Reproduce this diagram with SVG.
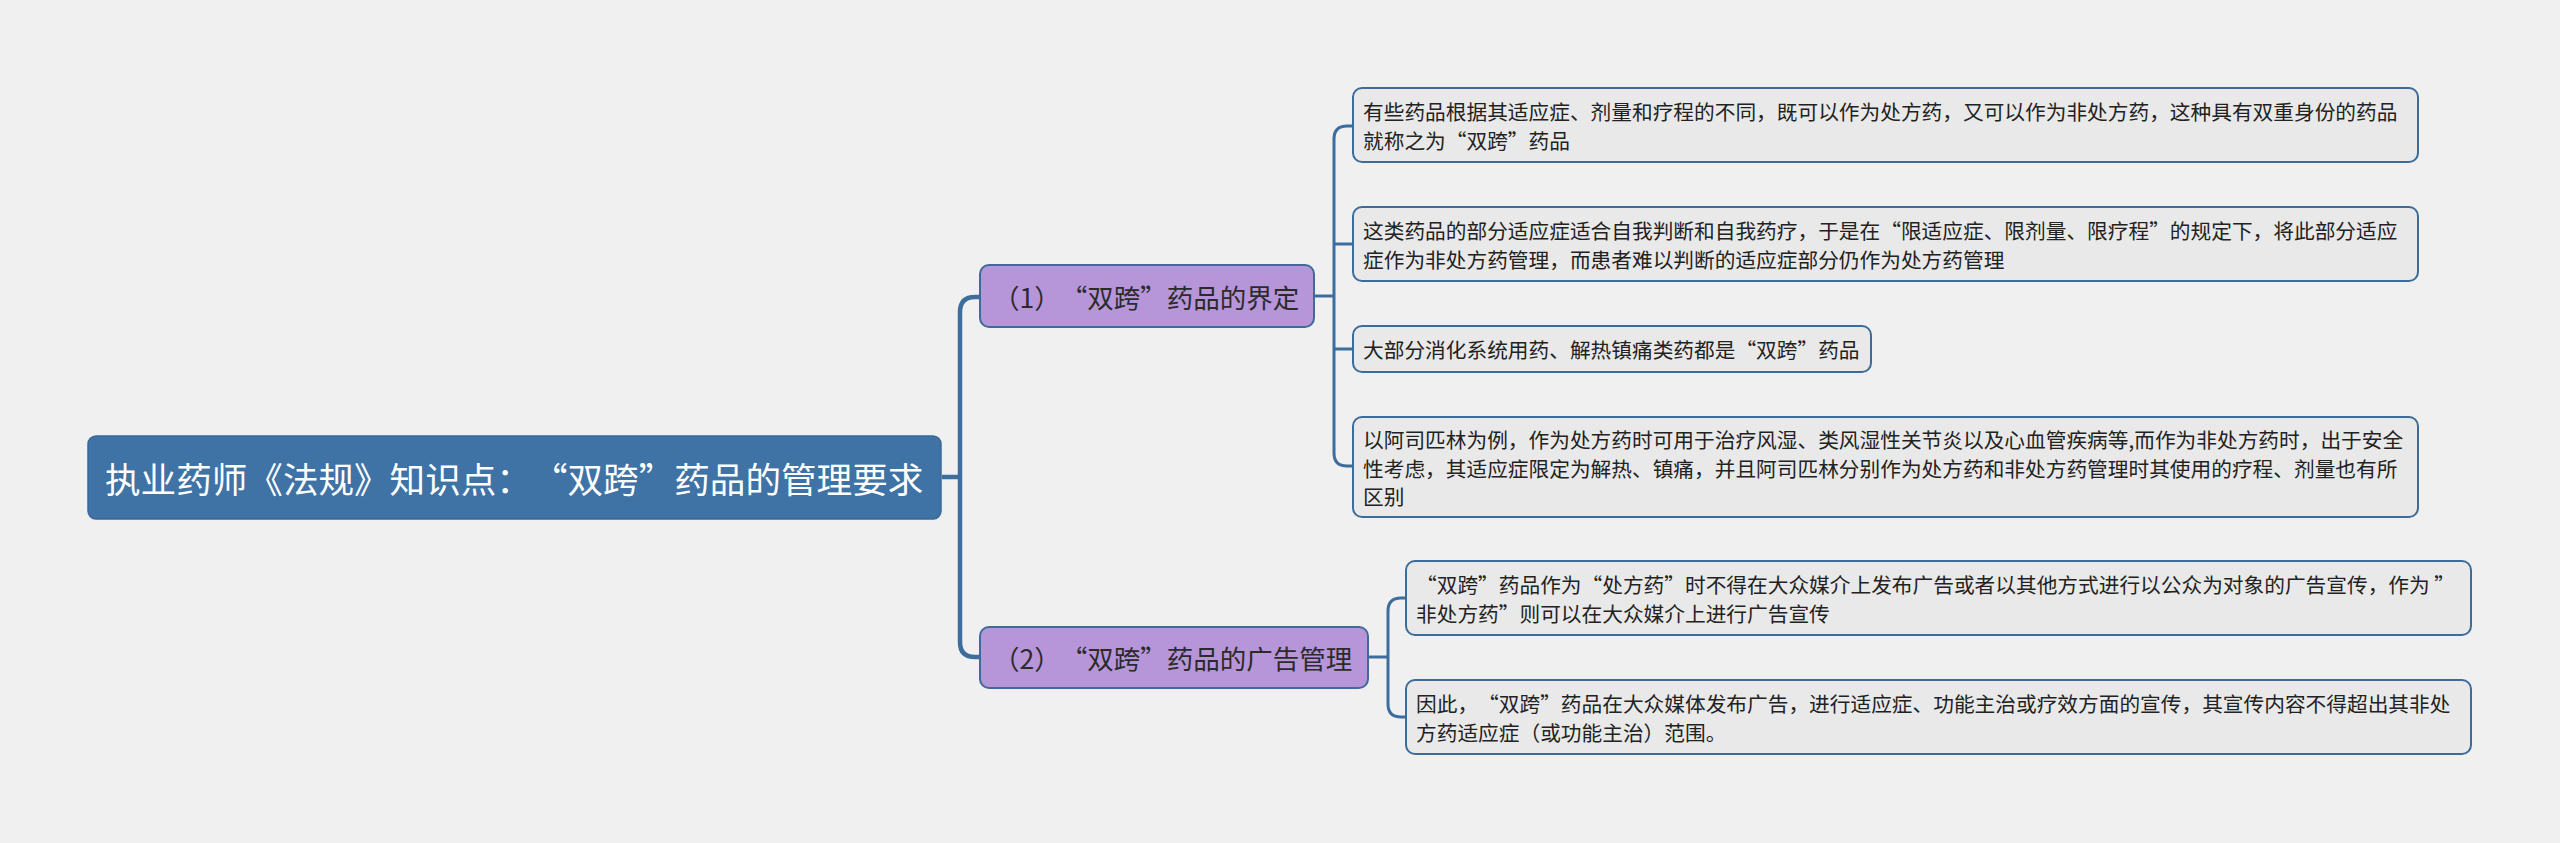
<svg xmlns="http://www.w3.org/2000/svg" width="2560" height="843" viewBox="0 0 2560 843">
<style>
.bg{fill:#f0f0f0}
.root rect{fill:#3f73a5;stroke:#3b6897;stroke-width:1.5}
.root text{fill:#ffffff;font-size:35.6px}
.br rect{fill:#b795d9;stroke:#3d6b9a;stroke-width:2}
.br text{fill:#2b2b2b;font-size:26.5px}
.lf rect{fill:#e9e9e9;stroke:#3d6b9a;stroke-width:2}
.lf text{fill:#222222;font-size:20.7px}
text{font-family:"Noto Sans CJK SC","Noto Sans",sans-serif;dominant-baseline:central;text-spacing-trim:space-all}
.c1{fill:none;stroke:#3c6d9d;stroke-width:4.5}
.c2{fill:none;stroke:#3c6d9d;stroke-width:3}
</style>
<rect class="bg" x="0" y="0" width="2560" height="843"/>
<g id="connectors">
<path class="c1" d="M942 477 H960"/>
<path class="c1" d="M980 297 H975 Q960 297 960 312 V642 Q960 657 975 657 H980"/>
<path class="c2" d="M1314 296 H1334"/>
<path class="c2" d="M1353 126 H1347 Q1334 126 1334 139 V453 Q1334 466 1347 466 H1353"/>
<path class="c2" d="M1334 244 H1353"/>
<path class="c2" d="M1334 349 H1353"/>
<path class="c2" d="M1368 657 H1388"/>
<path class="c2" d="M1406 598 H1401 Q1388 598 1388 611 V704 Q1388 717 1401 717 H1406"/>
</g>
<g id="root" class="root">
<rect x="88" y="436" width="853" height="83" rx="8"/>
<text x="105" y="477">执业药师《法规》知识点：“双跨”药品的管理要求</text>
</g>
<g id="b1" class="br">
<rect x="980" y="265" width="334" height="62" rx="9"/>
<text x="993" y="296">（1）“双跨”药品的界定</text>
</g>
<g id="b2" class="br">
<rect x="980" y="627" width="388" height="61" rx="9"/>
<text x="993" y="657">（2）“双跨”药品的广告管理</text>
</g>
<g id="l1" class="lf">
<rect x="1353" y="88" width="1065" height="74" rx="9"/>
<text x="1363" y="111">有些药品根据其适应症、剂量和疗程的不同，既可以作为处方药，又可以作为非处方药，这种具有双重身份的药品</text>
<text x="1363" y="140">就称之为“双跨”药品</text>
</g>
<g id="l2" class="lf">
<rect x="1353" y="207" width="1065" height="74" rx="9"/>
<text x="1363" y="230">这类药品的部分适应症适合自我判断和自我药疗，于是在“限适应症、限剂量、限疗程”的规定下，将此部分适应</text>
<text x="1363" y="259">症作为非处方药管理，而患者难以判断的适应症部分仍作为处方药管理</text>
</g>
<g id="l3" class="lf">
<rect x="1353" y="326" width="518" height="46" rx="9"/>
<text x="1363" y="349">大部分消化系统用药、解热镇痛类药都是“双跨”药品</text>
</g>
<g id="l4" class="lf">
<rect x="1353" y="417" width="1065" height="100" rx="9"/>
<text x="1363" y="439">以阿司匹林为例，作为处方药时可用于治疗风湿、类风湿性关节炎以及心血管疾病等,而作为非处方药时，出于安全</text>
<text x="1363" y="467.5">性考虑，其适应症限定为解热、镇痛，并且阿司匹林分别作为处方药和非处方药管理时其使用的疗程、剂量也有所</text>
<text x="1363" y="496">区别</text>
</g>
<g id="l5" class="lf">
<rect x="1406" y="561" width="1065" height="74" rx="9"/>
<text x="1416" y="584">“双跨”药品作为“处方药”时不得在大众媒介上发布广告或者以其他方式进行以公众为对象的广告宣传，作为 ”</text>
<text x="1416" y="613">非处方药”则可以在大众媒介上进行广告宣传</text>
</g>
<g id="l6" class="lf">
<rect x="1406" y="680" width="1065" height="74" rx="9"/>
<text x="1416" y="703">因此，“双跨”药品在大众媒体发布广告，进行适应症、功能主治或疗效方面的宣传，其宣传内容不得超出其非处</text>
<text x="1416" y="732">方药适应症（或功能主治）范围。</text>
</g>
</svg>
